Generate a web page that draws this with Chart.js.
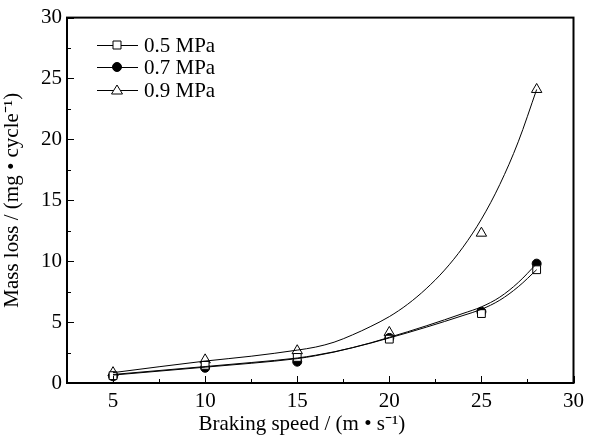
<!DOCTYPE html>
<html>
<head>
<meta charset="utf-8">
<script src="https://cdn.jsdelivr.net/npm/chart.js@4/dist/chart.umd.min.js"></script>
<style>
  html, body { margin: 0; padding: 0; background: #fff; }
  #wrap { width: 590px; height: 439px; }
</style>
</head>
<body>
<div id="wrap"><canvas id="chart" width="590" height="439"></canvas></div>
<script>
// measured points
var speeds = [5, 10, 15, 20, 25, 28];
var loss05 = [0.6, 1.45, 2.1, 3.6, 5.7, 9.3];
var loss07 = [0.55, 1.25, 1.75, 3.7, 5.85, 9.8];
var loss09 = [0.85, 1.9, 2.65, 4.15, 12.3, 24.1];

// fitted curves
var fitX = [5, 10, 12.5, 15, 16, 17, 18, 19, 20, 21, 22, 23, 24, 25, 26, 27, 28];
var fit05 = [0.7, 1.35, 1.68, 2.05, 2.28, 2.56, 2.9, 3.28, 3.7, 4.13, 4.58, 5.05, 5.54, 6.05, 6.8, 7.9, 9.3];
var fit07 = [0.65, 1.3, 1.62, 2.0, 2.24, 2.54, 2.9, 3.3, 3.75, 4.21, 4.69, 5.19, 5.71, 6.25, 7.05, 8.25, 9.8];
var fit09 = [0.85, 1.8, 2.2, 2.7, 2.95, 3.35, 3.95, 4.65, 5.45, 6.47, 7.74, 9.27, 11.15, 13.45, 16.3, 19.8, 24.1];

var seriesLabels = ['0.5 MPa', '0.7 MPa', '0.9 MPa'];
var xTicks = [5, 10, 15, 20, 25, 30];
var yTicks = [0, 5, 10, 15, 20, 25, 30];

var FONT = 'Liberation Serif, Times New Roman, serif';

function pts(xs, ys) {
  var out = [];
  for (var i = 0; i < xs.length; i++) {
    out.push({x: xs[i], y: ys[i]});
  }
  return out;
}

function fitSet(ys) {
  return {
    type: 'line',
    data: pts(fitX, ys),
    borderColor: '#000',
    borderWidth: 1,
    pointRadius: 0,
    fill: false,
    cubicInterpolationMode: 'monotone'
  };
}

function markSet(ys, style, radius, bg) {
  return {
    type: 'line',
    data: pts(speeds, ys),
    showLine: false,
    pointStyle: style,
    pointRadius: radius,
    pointBorderColor: '#000',
    pointBackgroundColor: bg,
    pointBorderWidth: 1
  };
}

// box, inward ticks and legend inside the plot
var framePlugin = {
  id: 'frame',
  afterDraw: function(chart) {
    var ctx = chart.ctx;
    var a = chart.chartArea;
    var xs = chart.scales.x;
    var ys = chart.scales.y;
    ctx.save();
    ctx.strokeStyle = '#000';
    ctx.lineWidth = 1;
    ctx.beginPath();
    for (var v = 2.5; v <= 30; v += 2.5) {
      var px = Math.round(xs.getPixelForValue(v)) + 0.5;
      var len = (v % 5 === 0) ? 7 : 4;
      ctx.moveTo(px, a.bottom);
      ctx.lineTo(px, a.bottom - len);
    }
    for (var w = 0; w <= 30; w += 2.5) {
      var py = Math.round(ys.getPixelForValue(w)) + 0.5;
      var len2 = (w % 5 === 0) ? 7 : 4;
      ctx.moveTo(a.left, py);
      ctx.lineTo(a.left + len2, py);
    }
    ctx.stroke();

    ctx.lineWidth = 2;
    ctx.strokeRect(a.left, a.top, a.right - a.left, a.bottom - a.top);

    // legend
    var rows = [45, 67, 90];
    var styles = ['rect', 'circle', 'triangle'];
    for (var i = 0; i < rows.length; i++) {
      var y = rows[i];
      ctx.lineWidth = 1;
      ctx.beginPath();
      ctx.moveTo(97, y + 0.5);
      ctx.lineTo(138, y + 0.5);
      ctx.stroke();
      var cx = 117;
      ctx.beginPath();
      if (styles[i] === 'rect') {
        ctx.rect(cx - 4, y - 4, 8, 8);
        ctx.fillStyle = '#fff';
      } else if (styles[i] === 'circle') {
        ctx.arc(cx, y, 4.5, 0, Math.PI * 2);
        ctx.fillStyle = '#000';
      } else {
        ctx.moveTo(cx, y - 5);
        ctx.lineTo(cx + 5.5, y + 4);
        ctx.lineTo(cx - 5.5, y + 4);
        ctx.closePath();
        ctx.fillStyle = '#fff';
      }
      ctx.fill();
      ctx.stroke();
      ctx.fillStyle = '#000';
      ctx.font = '21px ' + FONT;
      ctx.textAlign = 'left';
      ctx.textBaseline = 'middle';
      ctx.fillText(seriesLabels[i], 144, y + 1);
    }
    ctx.restore();
  }
};

document.addEventListener('DOMContentLoaded', function() {
  new Chart(document.getElementById('chart'), {
    type: 'line',
    data: {
      datasets: [
        fitSet(fit05),
        fitSet(fit07),
        fitSet(fit09),
        markSet(loss05, 'rect', 5.5, '#fff'),
        markSet(loss07, 'circle', 4.5, '#000'),
        markSet(loss09, 'triangle', 6, '#fff')
      ]
    },
    options: {
      responsive: false,
      animation: false,
      layout: {
        padding: { left: 0, right: 13, top: 14, bottom: 0 }
      },
      plugins: {
        legend: { display: false },
        tooltip: { enabled: false }
      },
      scales: {
        x: {
          type: 'linear',
          min: 2.5,
          max: 30,
          border: { display: false },
          grid: { display: false, drawTicks: false },
          afterBuildTicks: function(scale) {
            scale.ticks = xTicks.map(function(v) { return {value: v}; });
          },
          afterFit: function(scale) {
            scale.height = 56;
          },
          ticks: {
            color: '#000',
            padding: 6,
            maxRotation: 0,
            font: { family: FONT, size: 21 }
          },
          title: {
            display: true,
            // trailing spaces nudge the centred title a little to the left, as in the original
            text: 'Braking speed / (m \u2022 s\u207B\u00B9)       ',
            color: '#000',
            padding: { top: 0, bottom: 2 },
            font: { family: FONT, size: 21 }
          }
        },
        y: {
          type: 'linear',
          min: 0,
          max: 30,
          border: { display: false },
          grid: { display: false, drawTicks: false },
          afterBuildTicks: function(scale) {
            scale.ticks = yTicks.map(function(v) { return {value: v}; });
          },
          afterFit: function(scale) {
            scale.width = 67;
          },
          ticks: {
            color: '#000',
            padding: 5,
            font: { family: FONT, size: 21 }
          },
          title: {
            display: true,
            text: 'Mass loss / (mg \u2022 cycle\u207B\u00B9)',
            color: '#000',
            padding: { top: 0, bottom: 0 },
            font: { family: FONT, size: 21 }
          }
        }
      }
    },
    plugins: [framePlugin]
  });
});
</script>
</body>
</html>
